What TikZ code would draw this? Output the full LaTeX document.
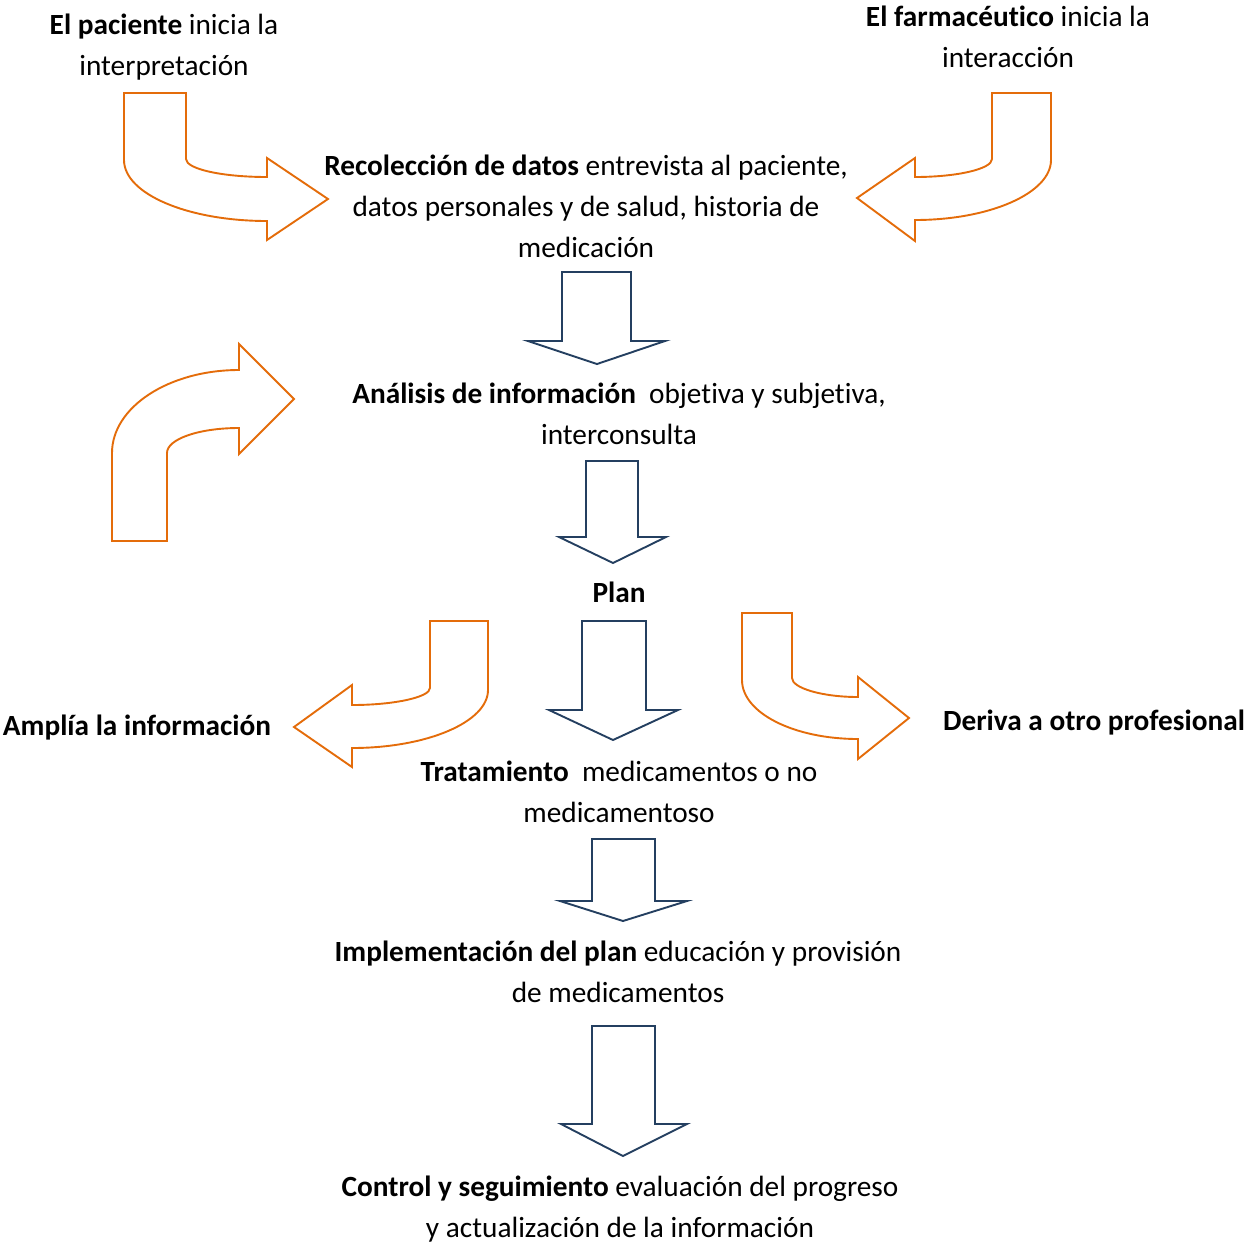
\documentclass[tikz,border=0pt]{standalone}
\usepackage{fontspec}
\setmainfont{Carlito}[Ligatures=NoCommon]
\begin{document}
\begin{tikzpicture}[x=1pt,y=-1pt,
  txt/.style={align=center,anchor=base,inner sep=0pt,font=\fontsize{29.3}{41}\selectfont},
  bentarrow/.style={draw=orangeline,line width=1.9pt,fill=white,line join=miter},
  downarrow/.style={draw=navyline,line width=1.9pt,fill=white,line join=miter}]
\definecolor{orangeline}{RGB}{228,108,10}
\definecolor{navyline}{RGB}{36,63,96}
\useasboundingbox (0,0) rectangle (1247,1243);

% text blocks (placed by the baseline of their last line)
\node[txt] (paciente) at (164,75) {\textbf{El paciente} inicia la\\interpretación};
\node[txt] (farma) at (1008,67) {\textbf{El farmacéutico} inicia la\\interacción};
\node[txt] (recol) at (586,257) {\textbf{Recolección de datos} entrevista al paciente,\\datos personales y de salud, historia de\\medicación};
\node[txt] (analisis) at (619,444) {\textbf{Análisis de información}\ \ objetiva y subjetiva,\\interconsulta};
\node[txt] (plan) at (619,602) {\textbf{Plan}};
\node[txt] (amplia) at (137,735) {\textbf{Amplía la información}};
\node[txt] (deriva) at (1094,730) {\textbf{Deriva a otro profesional}};
\node[txt] (trat) at (619,822) {\textbf{Tratamiento}\ \ medicamentos o no\\medicamentoso};
\node[txt] (impl) at (618,1002) {\textbf{Implementación del plan} educación y provisión\\de medicamentos};
\node[txt] (control) at (620,1237) {\textbf{Control y seguimiento} evaluación del progreso\\y actualización de la información};

% bent block arrows (orange)
\draw[bentarrow] (124,93) -- (186,93) -- (186,159)
  .. controls (186,169) and (222,177) .. (267,177) -- (267,158) -- (328,199)
  -- (267,240) -- (267,221) .. controls (188,221) and (124,194) .. (124,160) -- cycle;
\draw[bentarrow] (992,93) -- (1051,93) -- (1051,160)
  .. controls (1051,193) and (990,220) .. (915,220) -- (915,241) -- (857,198)
  -- (915,158) -- (915,177) .. controls (957,177) and (992,169) .. (992,159) -- cycle;
\draw[bentarrow] (112,541) -- (112,453)
  .. controls (112,407) and (169,370) .. (239,370) -- (239,344) -- (294,399)
  -- (239,454) -- (239,428) .. controls (199,428) and (167,439) .. (167,453)
  -- (167,541) -- cycle;
\draw[bentarrow] (430,621) -- (488,621) -- (488,690)
  .. controls (488,722) and (427,748) .. (352,748) -- (352,767) -- (294,727)
  -- (352,685) -- (352,705) .. controls (395,705) and (430,697) .. (430,688) -- cycle;
\draw[bentarrow] (742,613) -- (792,613) -- (792,678)
  .. controls (792,688) and (822,697) .. (858,697) -- (858,677) -- (909,718)
  -- (858,759) -- (858,739) .. controls (794,739) and (742,713) .. (742,680) -- cycle;

% straight block arrows (navy)
\draw[downarrow] (562,272) -- (631,272) -- (631,341) -- (665,341) -- (597,364)
  -- (528,341) -- (562,341) -- cycle;
\draw[downarrow] (586,461) -- (638,461) -- (638,537) -- (666,537) -- (613,563)
  -- (559,537) -- (586,537) -- cycle;
\draw[downarrow] (582,621) -- (646,621) -- (646,710) -- (678,710) -- (613,740)
  -- (549,710) -- (582,710) -- cycle;
\draw[downarrow] (592,839) -- (655,839) -- (655,901) -- (687,901) -- (623,921)
  -- (560,901) -- (592,901) -- cycle;
\draw[downarrow] (592,1026) -- (655,1026) -- (655,1124) -- (687,1124) -- (623,1156)
  -- (561,1124) -- (592,1124) -- cycle;
\end{tikzpicture}
\end{document}
